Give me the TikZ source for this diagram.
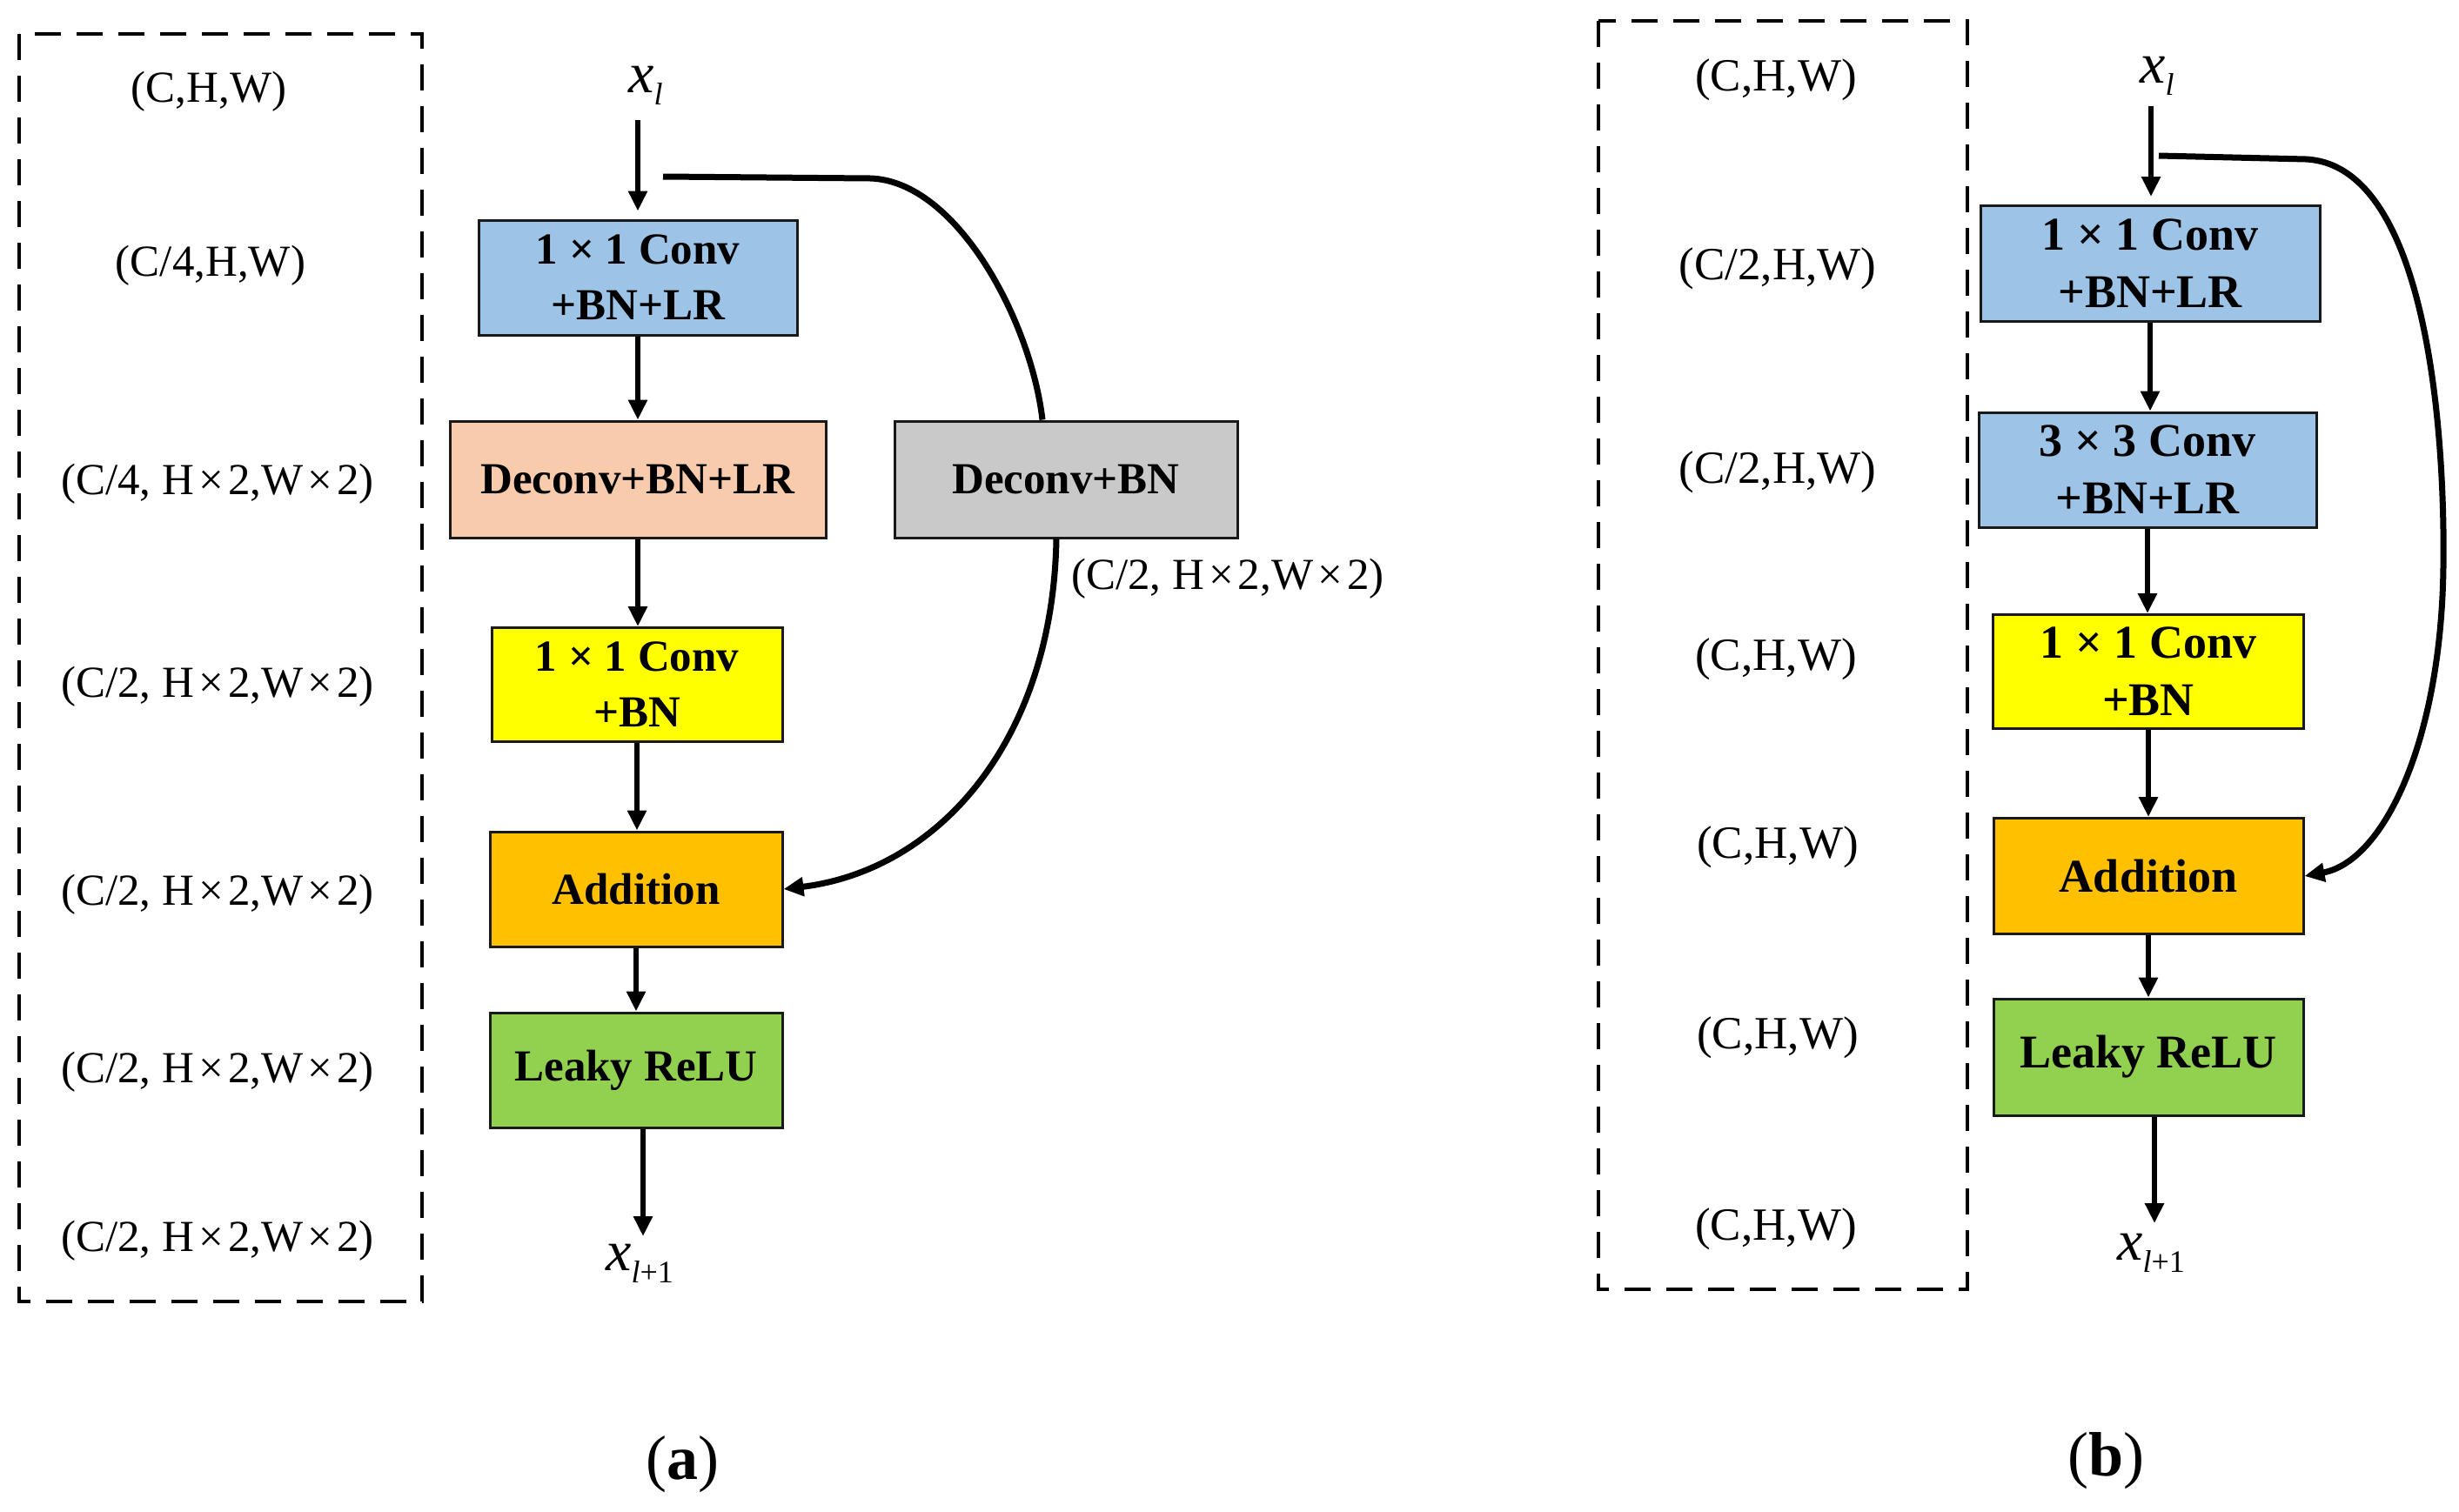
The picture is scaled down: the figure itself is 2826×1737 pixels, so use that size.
\documentclass[tikz,border=0pt]{standalone}
\usepackage{fontspec}
\setmainfont{Liberation Serif}
\usetikzlibrary{arrows.meta}
\definecolor{cblue}{HTML}{9DC3E6}
\definecolor{csalmon}{HTML}{F8CBAD}
\definecolor{cyellow}{HTML}{FFFF00}
\definecolor{corange}{HTML}{FFC000}
\definecolor{cgreen}{HTML}{92D050}
\definecolor{cgray}{HTML}{C9C9C9}
\newcommand\tms{\kern5pt×\kern5pt}
\newcommand\xsub[1]{{\itshape x}\raisebox{-14pt}{\fontsize{36}{36}\selectfont #1}}
\begin{document}
\begin{tikzpicture}[x=1pt,y=-1pt,
  blk/.style={draw=black!90, line width=3pt, inner sep=0pt, align=center,
    font=\bfseries\fontsize{51}{64}\selectfont},
  blkb/.style={blk, font=\bfseries\fontsize{54}{66}\selectfont},
  lab/.style={inner sep=0pt, font=\fontsize{51}{51}\selectfont},
  labb/.style={inner sep=0pt, font=\fontsize{53}{53}\selectfont},
  xlab/.style={inner sep=0pt, font=\fontsize{66}{66}\selectfont},
  ttl/.style={inner sep=0pt, font=\fontsize{72}{72}\selectfont},
  frame/.style={line width=3.5pt, dash pattern=on 30pt off 18pt},
  arr/.style={line width=6.5pt, -{Triangle[length=23pt,width=21pt]}},
  skip/.style={line width=7pt}
]
\useasboundingbox (0,0) rectangle (2826,1737);

% ---------------- (a) ----------------
\draw[frame] (22,39) rectangle (485,1496);
\node[lab] (la1) at (240,105) {(C,H,W)};
\node[lab] (la2) at (242,305) {(C/4,H,W)};
\node[lab] (la3) at (250,556) {(C/4, H\tms2,W\tms2)};
\node[lab] (la4) at (250,789) {(C/2, H\tms2,W\tms2)};
\node[lab] (la5) at (250,1028) {(C/2, H\tms2,W\tms2)};
\node[lab] (la6) at (250,1232) {(C/2, H\tms2,W\tms2)};
\node[lab] (la7) at (250,1426) {(C/2, H\tms2,W\tms2)};

\node[xlab] (xa) at (742,98) {\xsub{\itshape l}};
\node[blk, fill=cblue, minimum width=366pt, minimum height=132pt] (A1) at (733,319) {1 × 1 Conv\\+BN+LR};
\node[blk, fill=csalmon, minimum width=432pt, minimum height=134pt] (A2) at (733,551) {Deconv+BN+LR};
\node[blk, fill=cyellow, minimum width=334pt, minimum height=131pt] (A3) at (732,787) {1 × 1 Conv\\+BN};
\node[blk, fill=corange, minimum width=336pt, minimum height=132pt] (A4) at (731,1022) {Addition};
\node[blk, fill=cgreen, minimum width=336pt, minimum height=132pt] (A5) at (731,1230) {Leaky ReLU};
\node[blk, fill=cgray, minimum width=394pt, minimum height=134pt] (G) at (1225,551) {Deconv+BN};
\node[xlab] (xa2) at (735,1452) {\xsub{{\itshape l}+1}};
\node[lab, anchor=west] (lg) at (1231,665) {(C/2, H\tms2,W\tms2)};

\coordinate (a0) at (733,138);
\coordinate (aend) at (739,1421);
\coordinate (sa) at (762,203);
\draw[arr, shorten >=9pt] (a0) -- (A1.north);
\draw[arr] (A1.south) -- (A1.south |- A2.north);
\draw[arr] (A2.south) -- (A2.south |- A3.north);
\draw[arr] (A3.south) -- (A3.south |- A4.north);
\draw[arr] (A4.south) -- (A4.south |- A5.north);
\draw[arr] (aend |- A5.south) -- (aend);
\draw[skip] (sa) -- (1000,205) .. controls (1100,208) and (1185,370) .. ([xshift=-27pt]G.north);
\draw[skip, -{Triangle[length=23pt,width=21pt]}] ([xshift=-11pt]G.south) .. controls (1210,850) and (1080,1000) .. (A4.east);

\node[ttl] (ta) at (784,1683) {(\textbf{a})};

% ---------------- (b) ----------------
\draw[frame] (1837,24) rectangle (2261,1482);
\node[labb] (lb1) at (2041,92) {(C,H,W)};
\node[labb] (lb2) at (2043,309) {(C/2,H,W)};
\node[labb] (lb3) at (2043,543) {(C/2,H,W)};
\node[labb] (lb4) at (2041,758) {(C,H,W)};
\node[labb] (lb5) at (2043,974) {(C,H,W)};
\node[labb] (lb6) at (2043,1193) {(C,H,W)};
\node[labb] (lb7) at (2041,1413) {(C,H,W)};

\node[xlab] (xb) at (2479,87) {\xsub{\itshape l}};
\node[blkb, fill=cblue, minimum width=390pt, minimum height=133pt] (B1) at (2471,303) {1 × 1 Conv\\+BN+LR};
\node[blkb, fill=cblue, minimum width=388pt, minimum height=132pt] (B2) at (2468,540) {3 × 3 Conv\\+BN+LR};
\node[blkb, fill=cyellow, minimum width=357pt, minimum height=131pt] (B3) at (2469,772) {1 × 1 Conv\\+BN};
\node[blkb, fill=corange, minimum width=356pt, minimum height=133pt] (B4) at (2469,1007) {Addition};
\node[blkb, fill=cgreen, minimum width=356pt, minimum height=134pt] (B5) at (2469,1215) {Leaky ReLU};
\node[xlab] (xb2) at (2472,1440) {\xsub{{\itshape l}+1}};

\coordinate (b0) at (2472,122);
\coordinate (bend) at (2476,1406);
\coordinate (sb) at (2481,179);
\draw[arr, shorten >=9pt] (b0) -- (b0 |- B1.north);
\draw[arr] (B1.south) -- (B1.south |- B2.north);
\draw[arr] (B2.south) -- (B2.south |- B3.north);
\draw[arr] (B3.south) -- (B3.south |- B4.north);
\draw[arr] (B4.south) -- (B4.south |- B5.north);
\draw[arr] (bend |- B5.south) -- (bend);
\draw[skip, -{Triangle[length=23pt,width=21pt]}] (sb) -- (2650,183) .. controls (2790,190) and (2810,500) .. (2808,650) .. controls (2806,850) and (2740,990) .. (B4.east);

\node[ttl] (tb) at (2420,1679) {(\textbf{b})};
\end{tikzpicture}
\end{document}
